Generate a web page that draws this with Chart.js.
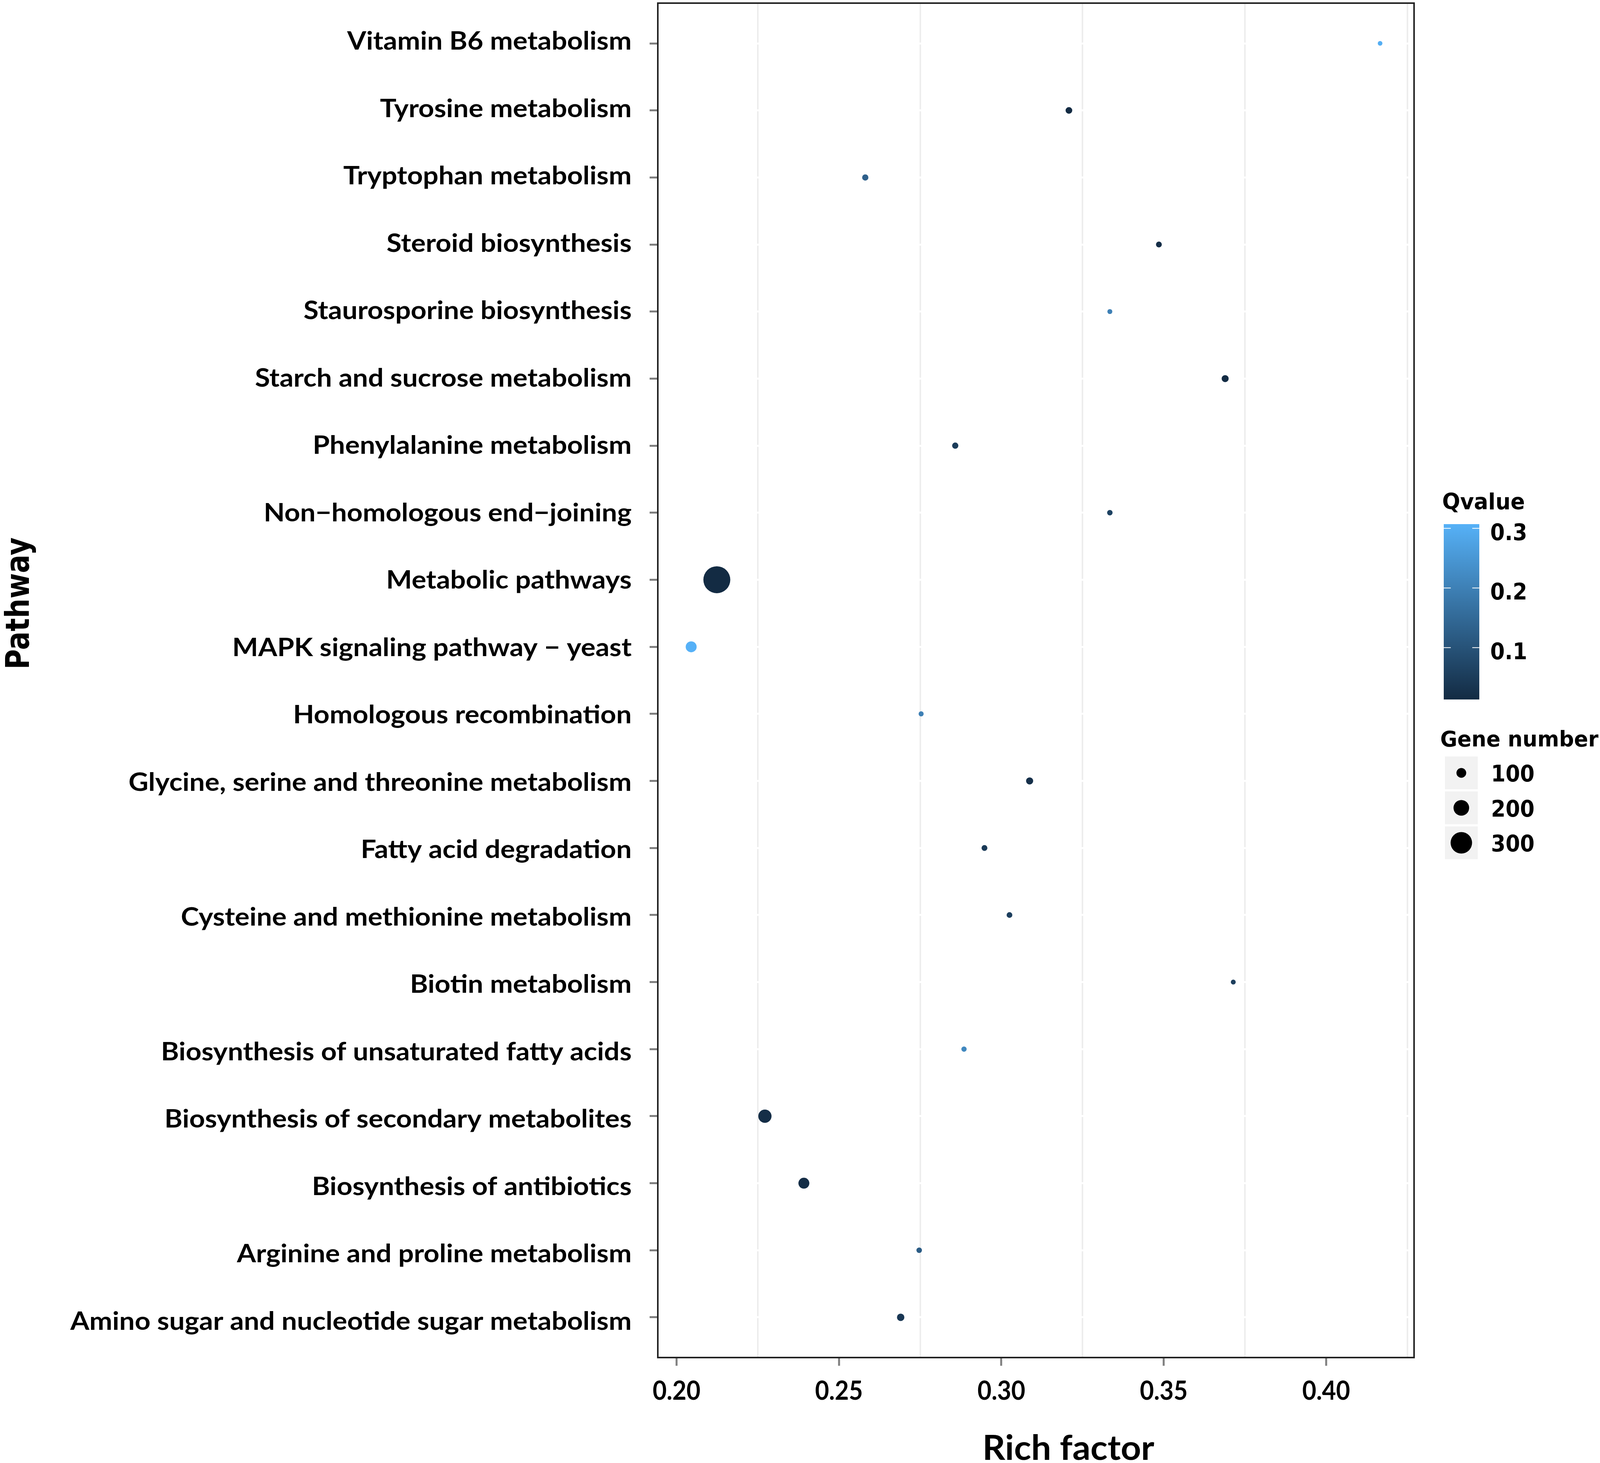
<!DOCTYPE html>
<html>
<head>
<meta charset="utf-8">
<script src="https://cdn.jsdelivr.net/npm/chart.js@4.4.1/dist/chart.umd.min.js"></script>
<style>
  html, body { margin: 0; padding: 0; background: #fff; }
  canvas { display: block; }
</style>
</head>
<body>
<canvas id="dotChart" width="4116" height="3746"></canvas>
<script>
// pathways from bottom row to top row
const pathways = [
  "Amino sugar and nucleotide sugar metabolism",
  "Arginine and proline metabolism",
  "Biosynthesis of antibiotics",
  "Biosynthesis of secondary metabolites",
  "Biosynthesis of unsaturated fatty acids",
  "Biotin metabolism",
  "Cysteine and methionine metabolism",
  "Fatty acid degradation",
  "Glycine, serine and threonine metabolism",
  "Homologous recombination",
  "MAPK signaling pathway \u2212 yeast",
  "Metabolic pathways",
  "Non\u2212homologous end\u2212joining",
  "Phenylalanine metabolism",
  "Starch and sucrose metabolism",
  "Staurosporine biosynthesis",
  "Steroid biosynthesis",
  "Tryptophan metabolism",
  "Tyrosine metabolism",
  "Vitamin B6 metabolism",
];
const richFactor = [
  0.2690, 0.2747, 0.2392, 0.2272, 0.2885, 0.3714, 0.3025, 0.2948, 0.3087, 0.2753,
  0.2045, 0.2124, 0.3334, 0.2858, 0.3689, 0.3334, 0.3485, 0.2581, 0.3208, 0.4166,
];
const geneNumber = [
  60, 27, 120, 160, 23, 17, 31, 33, 55, 20,
  120, 393, 27, 40, 53, 18, 33, 40, 47, 13,
];
const qValue = [
  0.04, 0.12, 0.02, 0.02, 0.216, 0.055, 0.057, 0.045, 0.025, 0.2,
  0.307, 0.013, 0.063, 0.05, 0.015, 0.2, 0.02, 0.13, 0.013, 0.30,
];

const xTicks = [0.2, 0.25, 0.3, 0.35, 0.4];
const qTicks = [0.1, 0.2, 0.3];
const sizeBreaks = [100, 200, 300];

const LOW = [19, 43, 67]; // #132B43
const HIGH = [86, 177, 247]; // #56B1F7
const qMin = Math.min(...qValue);
const qMax = Math.max(...qValue);

function qColor(q) {
  const t = (q - qMin) / (qMax - qMin);
  const c = LOW.map((l, i) => Math.round(l + (HIGH[i] - l) * t));
  return `rgb(${c[0]}, ${c[1]}, ${c[2]})`;
}

// dot diameter (px) for a gene count
const dotSize = (n) => 10 + 0.15 * n;
const isMajor = (v) => Math.abs(v * 20 - Math.round(v * 20)) < 1e-6;

// text helper, sx squeezes glyphs horizontally
function text(ctx, str, x, y, font, align, sx) {
  ctx.save();
  ctx.font = font;
  ctx.textAlign = align;
  ctx.textBaseline = "alphabetic";
  ctx.translate(x, y);
  ctx.scale(sx, 1);
  ctx.fillText(str, 0, 0);
  ctx.restore();
}

function fitScale(ctx, str, font, width) {
  ctx.save();
  ctx.font = font;
  const w = ctx.measureText(str).width;
  ctx.restore();
  return width / w;
}

const decorations = {
  id: "decorations",
  afterDraw(chart) {
    const { ctx, chartArea: a } = chart;
    const x = chart.scales.x;
    const y = chart.scales.y;
    ctx.save();
    ctx.fillStyle = "#000";

    // panel border
    ctx.strokeStyle = "#222";
    ctx.lineWidth = 4;
    ctx.strokeRect(a.left, a.top, a.right - a.left, a.bottom - a.top);

    // pathway labels
    const yFont = "bold 65px Lato";
    const ySx = fitScale(ctx, pathways[0], yFont, 1437);
    const n = pathways.length - 1;
    pathways.forEach((p, i) => {
      const base = y.getPixelForValue(i) + 32 - (16 * i) / n;
      text(ctx, p, a.left - 67, base, yFont, "right", ySx);
    });

    // x tick labels
    xTicks.forEach((v) => {
      text(ctx, v.toFixed(2), x.getPixelForValue(v), a.bottom + 108, "bold 66px Lato", "center", 0.94);
    });

    // axis titles
    const tFont = "bold 88px Lato";
    text(ctx, "Rich factor", 2735, 3738, tFont, "center", fitScale(ctx, "Rich factor", tFont, 440));
    ctx.save();
    ctx.translate(74, 1545);
    ctx.rotate(-Math.PI / 2);
    text(ctx, "Pathway", 0, 0, "bold 84px 'DejaVu Sans'", "center", 0.84);
    ctx.restore();

    // colour legend
    const lgFont = "bold 57px 'DejaVu Sans'";
    const labFont = "bold 58px 'DejaVu Sans'";
    text(ctx, "Qvalue", 3692, 1304, lgFont, "left", 0.95);
    const bar = { left: 3696, right: 3787, top: 1342, bottom: 1791 };
    const grad = ctx.createLinearGradient(0, bar.bottom, 0, bar.top);
    grad.addColorStop(0, qColor(qMin));
    grad.addColorStop(1, qColor(qMax));
    ctx.fillStyle = grad;
    ctx.fillRect(bar.left, bar.top, bar.right - bar.left, bar.bottom - bar.top);
    ctx.strokeStyle = "#fff";
    ctx.lineWidth = 2;
    qTicks.forEach((q) => {
      const ty = bar.bottom - ((q - qMin) / (qMax - qMin)) * (bar.bottom - bar.top);
      ctx.beginPath();
      ctx.moveTo(bar.left, ty);
      ctx.lineTo(bar.left + 18, ty);
      ctx.moveTo(bar.right - 18, ty);
      ctx.lineTo(bar.right, ty);
      ctx.stroke();
      ctx.fillStyle = "#000";
      text(ctx, q.toFixed(1), 3815, ty + 30, labFont, "left", 0.92);
    });

    // size legend
    ctx.fillStyle = "#000";
    text(ctx, "Gene number", 3687, 1911, "bold 55px 'DejaVu Sans'", "left", 0.97);
    sizeBreaks.forEach((s, i) => {
      const top = 1937 + i * 89.5;
      ctx.fillStyle = "#f2f2f2";
      ctx.fillRect(3699, top, 84, 84);
      ctx.fillStyle = "#000";
      ctx.beginPath();
      ctx.arc(3741, top + 42, dotSize(s) / 2, 0, Math.PI * 2);
      ctx.fill();
      text(ctx, String(s), 3817, top + 64, labFont, "left", 0.92);
    });
    ctx.restore();
  },
};

const ctx = document.getElementById("dotChart").getContext("2d");

new Chart(ctx, {
  type: "bubble",
  data: {
    datasets: [
      {
        data: pathways.map((p, i) => ({
          x: richFactor[i],
          y: i,
          r: dotSize(geneNumber[i]) / 2,
        })),
        backgroundColor: qValue.map(qColor),
        borderWidth: 0,
      },
    ],
  },
  options: {
    responsive: false,
    devicePixelRatio: 1,
    animation: false,
    events: [],
    layout: { autoPadding: false, padding: { left: 0, top: 8, right: 496, bottom: 0 } },
    plugins: { legend: { display: false }, tooltip: { enabled: false } },
    scales: {
      x: {
        type: "linear",
        min: 0.19423,
        max: 0.42706,
        afterFit: (s) => { s.height = 270; },
        ticks: { display: false, stepSize: 0.025, includeBounds: false, maxTicksLimit: 20 },
        grid: {
          color: (c) => (isMajor(c.tick.value) ? "rgba(0,0,0,0)" : "#ededed"),
          lineWidth: 4,
          tickColor: (c) => (isMajor(c.tick.value) ? "#7f7f7f" : "rgba(0,0,0,0)"),
          tickLength: 21,
          tickWidth: 5,
        },
        border: { display: false },
      },
      y: {
        type: "linear",
        min: -0.6,
        max: 19.6,
        afterFit: (s) => { s.width = 1684; },
        ticks: { display: false, stepSize: 1, includeBounds: false, maxTicksLimit: 30 },
        grid: {
          color: "#ffffff",
          lineWidth: 5,
          tickColor: "#7f7f7f",
          tickLength: 21,
          tickWidth: 5,
        },
        border: { display: false },
      },
    },
  },
  plugins: [decorations],
});
</script>
</body>
</html>
